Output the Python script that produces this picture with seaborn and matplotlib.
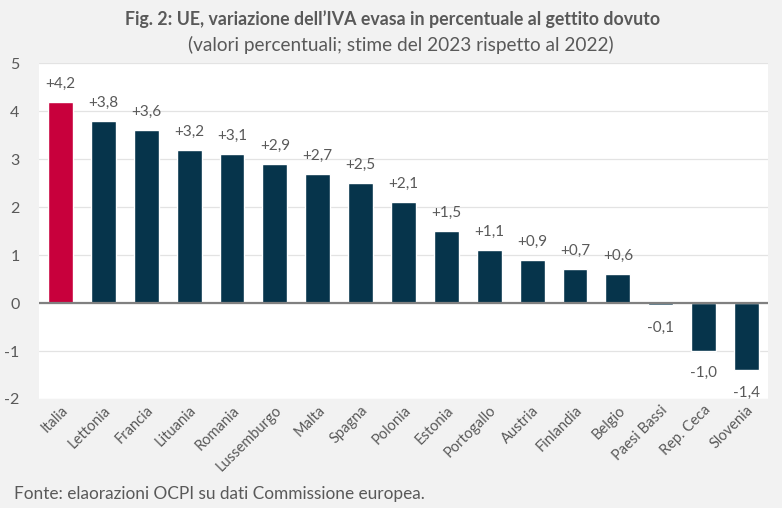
import matplotlib
matplotlib.use("Agg")
import matplotlib.pyplot as plt
import seaborn as sns
import pandas as pd

paesi = ["Italia", "Lettonia", "Francia", "Lituania", "Romania", "Lussemburgo", "Malta",
         "Spagna", "Polonia", "Estonia", "Portogallo", "Austria", "Finlandia", "Belgio",
         "Paesi Bassi", "Rep. Ceca", "Slovenia"]
valori = [4.2, 3.8, 3.6, 3.2, 3.1, 2.9, 2.7, 2.5, 2.1, 1.5, 1.1, 0.9, 0.7, 0.6, -0.05, -1.0, -1.4]
etichette = ["+4,2", "+3,8", "+3,6", "+3,2", "+3,1", "+2,9", "+2,7", "+2,5", "+2,1", "+1,5",
             "+1,1", "+0,9", "+0,7", "+0,6", "-0,1", "-1,0", "-1,4"]
y_ticks = [-2, -1, 0, 1, 2, 3, 4, 5]

sns.set_theme(style="white")
plt.rcParams['font.family'] = ['Lato', 'DejaVu Sans']

RED = "#c8003c"
NAVY = "#06344b"
TXT = "#595959"

df = pd.DataFrame({"paese": paesi, "valore": valori})
colors = [RED] + [NAVY] * (len(paesi) - 1)

fig = plt.figure(figsize=(7.82, 5.08), dpi=100)
fig.patch.set_facecolor("#f2f2f2")
ax = fig.add_axes([0.050, 0.2146, 0.932, 0.661])
ax.set_facecolor("white")

sns.barplot(data=df, x="paese", y="valore", hue="paese", palette=colors, legend=False,
            width=0.58, ax=ax, saturation=1)

ax.set_ylim(-2, 5)
ax.set_xlim(-0.5, len(paesi) - 0.5)
ax.set_yticks(y_ticks)
ax.set_yticklabels([str(t) for t in y_ticks], color=TXT, fontsize=11.5)
ax.yaxis.grid(True, color="#e3e3e3", linewidth=0.9)
ax.set_axisbelow(True)
ax.axhline(0, color="#808080", linewidth=1.6, zorder=3)
for s in ax.spines.values():
    s.set_visible(False)
ax.tick_params(axis="y", length=0, pad=14)
ax.tick_params(axis="x", length=0, pad=3)
ax.set_xlabel("")
ax.set_ylabel("")
ax.set_xticks(range(len(paesi)))
ax.set_xticklabels(paesi, rotation=45, ha="right", rotation_mode="anchor", color=TXT, fontsize=10.5)

for i, (v, lab) in enumerate(zip(valori, etichette)):
    if v >= 0:
        ax.annotate(lab, (i, v), xytext=(0, 8), textcoords="offset points",
                    ha="center", va="bottom", color=TXT, fontsize=11)
    else:
        ax.annotate(lab, (i, v), xytext=(0, -11), textcoords="offset points",
                    ha="center", va="top", color=TXT, fontsize=11)

fig.text(0.502, 0.963, "Fig. 2: UE, variazione dell’IVA evasa in percentuale al gettito dovuto",
         ha="center", va="center", fontsize=12.8, color=TXT, fontweight="bold")
fig.text(0.512, 0.912, "(valori percentuali; stime del 2023 rispetto al 2022)",
         ha="center", va="center", fontsize=13.7, color=TXT)
fig.text(0.018, 0.027, "Fonte: elaorazioni OCPI su dati Commissione europea.",
         ha="left", va="center", fontsize=12.4, color=TXT)

fig.savefig("out.png", dpi=100, facecolor=fig.get_facecolor())
